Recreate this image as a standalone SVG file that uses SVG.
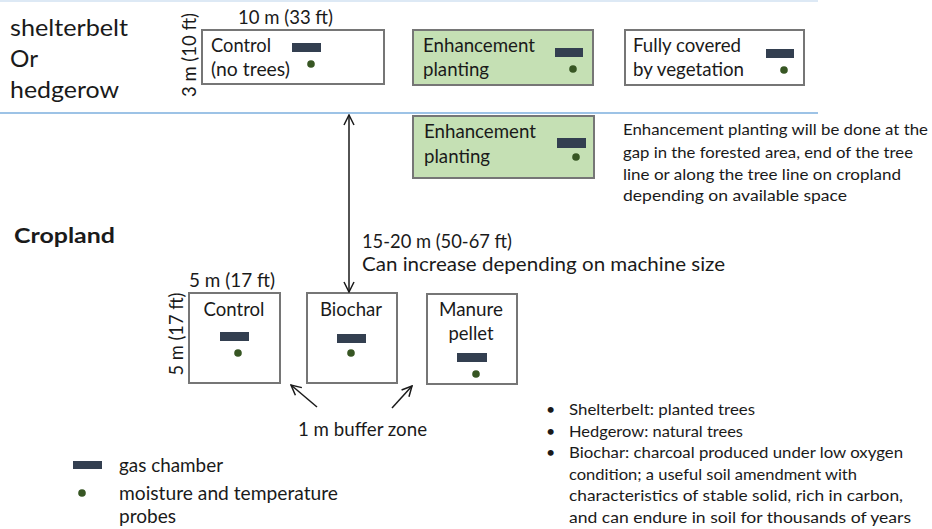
<svg xmlns="http://www.w3.org/2000/svg" width="932" height="529" viewBox="0 0 932 529">
<style>
  text { font-family: Lato, "Liberation Sans", sans-serif; fill: #1a1a1a; }
  .big { font-size: 24px; }
  .lbl { font-size: 19px; }
  .par { font-size: 16px; }
  .box { fill: #ffffff; stroke: #767676; stroke-width: 2; }
  .green { fill: #c5e0b4; stroke: #767676; stroke-width: 2; }
  .gas { fill: #333f50; }
  .probe { fill: #375623; }
  .sep { stroke: #9dc3e6; stroke-width: 2; }
  .conn { fill: none; stroke: #1a1a1a; stroke-width: 1.5; }
</style>
<defs>
  <marker id="open" viewBox="0 0 12 12" refX="11" refY="6" markerWidth="12" markerHeight="12" markerUnits="userSpaceOnUse" orient="auto-start-reverse">
    <path d="M1,1 L11,6 L1,11" fill="none" stroke="#1a1a1a" stroke-width="1.5"/>
  </marker>
</defs>
<rect width="932" height="529" fill="#ffffff"/>

<!-- separators -->
<line x1="0" y1="1" x2="818" y2="1" stroke="#dde9f5" stroke-width="2"/>
<line class="sep" x1="0" y1="113" x2="818" y2="113"/>

<!-- region labels -->
<g id="shelterbelt-label">
  <text class="big" x="10" y="36" textLength="118" lengthAdjust="spacingAndGlyphs">shelterbelt</text>
  <text class="big" x="10" y="67" textLength="28" lengthAdjust="spacingAndGlyphs">Or</text>
  <text class="big" x="10" y="98" textLength="109" lengthAdjust="spacingAndGlyphs">hedgerow</text>
</g>
<g id="cropland-label">
  <text x="14" y="243" font-size="21" font-weight="bold" textLength="101" lengthAdjust="spacingAndGlyphs">Cropland</text>
</g>

<!-- dimension labels -->
<g id="dim-top">
  <text class="lbl" x="238" y="24" textLength="95" lengthAdjust="spacingAndGlyphs">10 m (33 ft)</text>
  <text class="lbl" text-anchor="middle" transform="translate(196,55) rotate(-90)" textLength="84" lengthAdjust="spacingAndGlyphs">3 m (10 ft)</text>
</g>
<g id="dim-bottom">
  <text class="lbl" x="189" y="287" textLength="86" lengthAdjust="spacingAndGlyphs">5 m (17 ft)</text>
  <text class="lbl" text-anchor="middle" transform="translate(183,334) rotate(-90)" textLength="83" lengthAdjust="spacingAndGlyphs">5 m (17 ft)</text>
</g>

<!-- top row -->
<g id="control-top">
  <rect class="box" x="202" y="30" width="182" height="54"/>
  <text class="lbl" x="211" y="52" textLength="60" lengthAdjust="spacingAndGlyphs">Control</text>
  <text class="lbl" x="211" y="76" textLength="79" lengthAdjust="spacingAndGlyphs">(no trees)</text>
  <rect class="gas" x="292" y="43" width="29" height="9"/>
  <circle class="probe" cx="311" cy="64" r="3.8"/>
</g>
<g id="enhancement-top">
  <rect class="green" x="413" y="30" width="180" height="55"/>
  <text class="lbl" x="423" y="52" textLength="112" lengthAdjust="spacingAndGlyphs">Enhancement</text>
  <text class="lbl" x="423" y="76" textLength="66" lengthAdjust="spacingAndGlyphs">planting</text>
  <rect class="gas" x="555" y="48" width="28" height="9"/>
  <circle class="probe" cx="573" cy="69" r="3.8"/>
</g>
<g id="fully-covered">
  <rect class="box" x="625" y="30" width="179" height="55"/>
  <text class="lbl" x="633" y="52" textLength="108" lengthAdjust="spacingAndGlyphs">Fully covered</text>
  <text class="lbl" x="633" y="76" textLength="111" lengthAdjust="spacingAndGlyphs">by vegetation</text>
  <rect class="gas" x="766" y="49" width="28" height="9"/>
  <circle class="probe" cx="784" cy="70" r="3.8"/>
</g>

<!-- enhancement below line -->
<g id="enhancement-crop">
  <rect class="green" x="413" y="116" width="181" height="62"/>
  <text class="lbl" x="424" y="138" textLength="112" lengthAdjust="spacingAndGlyphs">Enhancement</text>
  <text class="lbl" x="424" y="163" textLength="66" lengthAdjust="spacingAndGlyphs">planting</text>
  <rect class="gas" x="557" y="138" width="29" height="10"/>
  <circle class="probe" cx="576" cy="157" r="3.8"/>
</g>
<g id="enhancement-note">
  <text class="par" x="623" y="135" textLength="305" lengthAdjust="spacingAndGlyphs">Enhancement planting will be done at the</text>
  <text class="par" x="623" y="158" textLength="290" lengthAdjust="spacingAndGlyphs">gap in the forested area, end of the tree</text>
  <text class="par" x="623" y="180" textLength="278" lengthAdjust="spacingAndGlyphs">line or along the tree line on cropland</text>
  <text class="par" x="623" y="201" textLength="224" lengthAdjust="spacingAndGlyphs">depending on available space</text>
</g>

<!-- distance label -->
<g id="distance-label">
  <text class="lbl" x="362" y="248" textLength="150" lengthAdjust="spacingAndGlyphs">15-20 m (50-67 ft)</text>
  <text class="lbl" x="362" y="271" textLength="363" lengthAdjust="spacingAndGlyphs">Can increase depending on machine size</text>
</g>

<!-- bottom plots -->
<g id="control-plot">
  <rect class="box" x="189" y="293" width="91" height="90"/>
  <text class="lbl" x="234" y="316" text-anchor="middle" textLength="61" lengthAdjust="spacingAndGlyphs">Control</text>
  <rect class="gas" x="220" y="332" width="29" height="9"/>
  <circle class="probe" cx="238" cy="353" r="3.8"/>
</g>
<g id="biochar-plot">
  <rect class="box" x="307" y="293" width="90" height="90"/>
  <text class="lbl" x="351" y="316" text-anchor="middle" textLength="62" lengthAdjust="spacingAndGlyphs">Biochar</text>
  <rect class="gas" x="337" y="334" width="29" height="9"/>
  <circle class="probe" cx="351" cy="353" r="3.8"/>
</g>
<g id="manure-plot">
  <rect class="box" x="427" y="294" width="90" height="90"/>
  <text class="lbl" x="471" y="316" text-anchor="middle" textLength="64" lengthAdjust="spacingAndGlyphs">Manure</text>
  <text class="lbl" x="471" y="340" text-anchor="middle" textLength="45" lengthAdjust="spacingAndGlyphs">pellet</text>
  <rect class="gas" x="457" y="353" width="30" height="9"/>
  <circle class="probe" cx="476" cy="374" r="3.8"/>
</g>
<g id="buffer-label">
  <text class="lbl" x="298" y="436" textLength="129" lengthAdjust="spacingAndGlyphs">1 m buffer zone</text>
</g>

<!-- connectors -->
<g id="connectors">
  <line class="conn" x1="349" y1="115" x2="349" y2="292" stroke-width="1.2" marker-start="url(#open)" marker-end="url(#open)"/>
  <line class="conn" x1="317" y1="407" x2="291" y2="385" marker-end="url(#open)"/>
  <line class="conn" x1="392" y1="408" x2="412" y2="386" marker-end="url(#open)"/>
</g>

<!-- legend -->
<g id="legend">
  <rect class="gas" x="73" y="461" width="29" height="8"/>
  <circle class="probe" cx="82" cy="493" r="3.8"/>
  <text class="lbl" x="119" y="472" textLength="104" lengthAdjust="spacingAndGlyphs">gas chamber</text>
  <text class="lbl" x="119" y="500" textLength="219" lengthAdjust="spacingAndGlyphs">moisture and temperature</text>
  <text class="lbl" x="119" y="523" textLength="57" lengthAdjust="spacingAndGlyphs">probes</text>
</g>

<!-- definitions -->
<g id="definitions">
  <text class="par" x="546" y="415">•</text>
  <text class="par" x="546" y="437">•</text>
  <text class="par" x="546" y="458">•</text>
  <text class="par" x="569" y="415" textLength="186" lengthAdjust="spacingAndGlyphs">Shelterbelt: planted trees</text>
  <text class="par" x="569" y="437" textLength="174" lengthAdjust="spacingAndGlyphs">Hedgerow: natural trees</text>
  <text class="par" x="569" y="458" textLength="334" lengthAdjust="spacingAndGlyphs">Biochar: charcoal produced under low oxygen</text>
  <text class="par" x="569" y="480" textLength="288" lengthAdjust="spacingAndGlyphs">condition; a useful soil amendment with</text>
  <text class="par" x="569" y="501" textLength="334" lengthAdjust="spacingAndGlyphs">characteristics of stable solid, rich in carbon,</text>
  <text class="par" x="569" y="523" textLength="342" lengthAdjust="spacingAndGlyphs">and can endure in soil for thousands of years</text>
</g>
</svg>
